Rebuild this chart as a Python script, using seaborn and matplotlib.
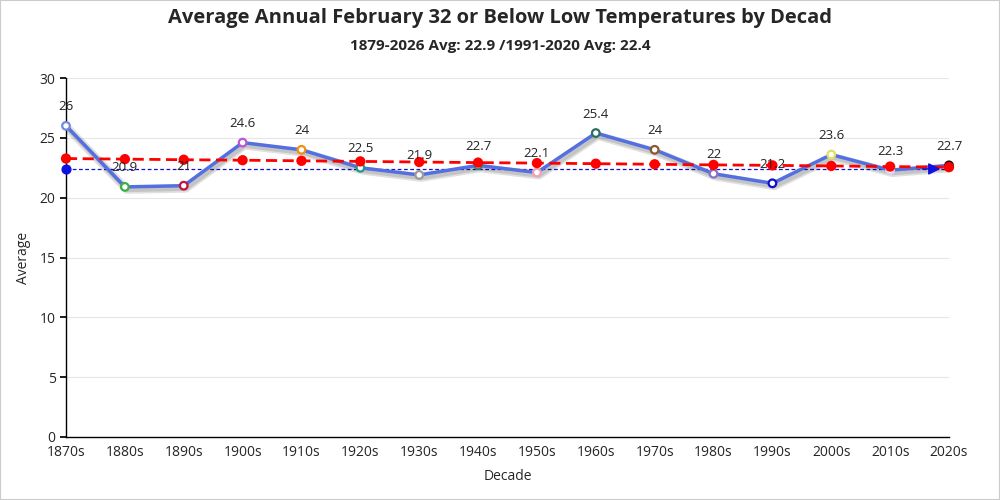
import numpy as np
import pandas as pd
import matplotlib
matplotlib.use("Agg")
import matplotlib.pyplot as plt
import matplotlib.patheffects as pe
import seaborn as sns

decades = ["1870s", "1880s", "1890s", "1900s", "1910s", "1920s", "1930s", "1940s",
           "1950s", "1960s", "1970s", "1980s", "1990s", "2000s", "2010s", "2020s"]
averages = [26, 20.9, 21, 24.6, 24, 22.5, 21.9, 22.7, 22.1, 25.4, 24, 22, 21.2, 23.6, 22.3, 22.7]
trend = [23.27, 23.22, 23.17, 23.13, 23.08, 23.03, 22.98, 22.93,
         22.89, 22.84, 22.79, 22.74, 22.70, 22.65, 22.60, 22.55]
normal_avg = 22.4
point_colors = ["#6f8be0", "#3cb043", "#c0143c", "#ba55d3", "#f0900c", "#1a9a8a",
                "#9a9a9a", "#2e8b7a", "#f0a0b8", "#2a6e60", "#8b5a2b", "#8a70c8",
                "#1010c8", "#e0e060", "#e0d0f0", "#111111"]

df = pd.DataFrame({"decade": decades, "avg": averages, "trend": trend})
df["x"] = np.arange(len(decades))

sns.set_theme(style="white")
plt.rcParams["font.family"] = ["Open Sans", "DejaVu Sans"]

fig, ax = plt.subplots(figsize=(10, 5), dpi=100)
fig.subplots_adjust(left=0.066, right=0.949, top=0.844, bottom=0.126)

for y in range(5, 31, 5):
    ax.axhline(y, color="#e6e6e6", lw=0.8, zorder=0)

# 1991-2020 normal line
ax.axhline(normal_avg, color="#1010d0", lw=0.9, ls=(0, (3, 2)), zorder=2)
ax.scatter([0], [normal_avg], color="#1010e0", s=40, zorder=6, clip_on=False)

# main series
sns.lineplot(data=df, x="x", y="avg", ax=ax, color="#5470e0", lw=2.5, zorder=5)
ax.lines[-1].set_path_effects([pe.SimpleLineShadow(offset=(1.5, -2), shadow_color="black", alpha=0.12, linewidth=6),
                               pe.SimpleLineShadow(offset=(1.5, -2), shadow_color="black", alpha=0.12, linewidth=3.5),
                               pe.Normal()])
sns.scatterplot(data=df, x="x", y="avg", hue="decade", palette=point_colors, ax=ax,
                s=30, linewidth=1.6, legend=False, zorder=7, clip_on=False)
coll = ax.collections[-1]
coll.set_facecolor("white")
coll.set_edgecolor(point_colors)

# trend line
sns.lineplot(data=df, x="x", y="trend", ax=ax, color="red", lw=2,
             linestyle=(0, (4, 2)), zorder=8)
sns.scatterplot(data=df, x="x", y="trend", ax=ax, color="red", s=55,
                edgecolor="none", zorder=8, clip_on=False)

ax.annotate("", xy=(14.9, normal_avg), xytext=(14.5, normal_avg),
            arrowprops=dict(arrowstyle="-|>", color="#1010e0", lw=1, mutation_scale=18),
            zorder=9)

for xi, v in zip(df["x"], averages):
    ax.annotate(f"{v:g}", (xi, v), xytext=(0, 9), textcoords="offset points",
                ha="center", va="bottom", fontsize=9.5, color="#222222", zorder=9)

ax.set_xlim(0, 15)
ax.set_ylim(0, 30)
ax.set_xticks(df["x"])
ax.set_xticklabels(decades, fontsize=10)
ax.set_yticks(range(0, 31, 5))
ax.tick_params(axis="y", labelsize=10, length=4, color="black", direction="out", left=True)
ax.tick_params(axis="x", length=0, pad=6)
ax.set_xlabel("Decade", fontsize=10, labelpad=6)
ax.set_ylabel("Average", fontsize=10, labelpad=6)
for s in ["top", "right"]:
    ax.spines[s].set_visible(False)
for s in ["left", "bottom"]:
    ax.spines[s].set_color("black")
    ax.spines[s].set_linewidth(1)

fig.text(0.5, 0.965, "Average Annual February 32 or Below Low Temperatures by Decad",
         ha="center", va="center", fontsize=14.5, fontweight="bold")
fig.text(0.5, 0.908, "1879-2026 Avg: 22.9 /1991-2020 Avg: 22.4",
         ha="center", va="center", fontsize=11, fontweight="bold")

fig.patches.append(plt.Rectangle((0, 0), 1, 1, transform=fig.transFigure,
                                 fill=False, edgecolor="#cccccc", lw=1.5))
fig.savefig("out.png", dpi=100)
